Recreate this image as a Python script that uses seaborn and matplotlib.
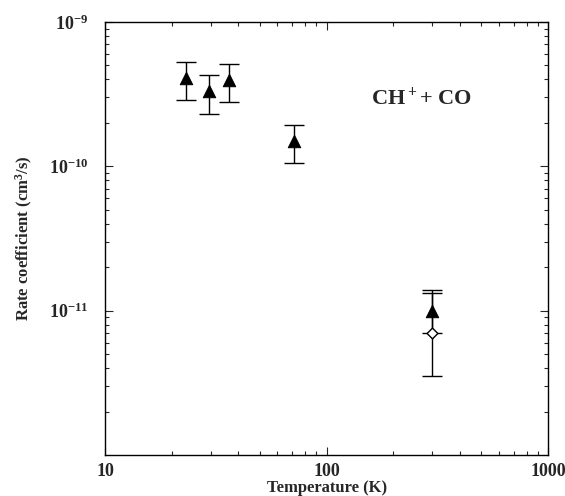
import numpy as np
import pandas as pd
import seaborn as sns
import matplotlib.pyplot as plt
from matplotlib.ticker import LogLocator, NullFormatter

# measured rate coefficients, CH+ + CO
temp_tri = [23.1, 29.6, 36.1, 71.3, 300.0]
rate_tri = [4.1e-10, 3.3e-10, 3.97e-10, 1.49e-10, 1.0e-11]
err_hi_tri = [5.26e-10, 4.27e-10, 5.15e-10, 1.94e-10, 1.4e-11]
err_lo_tri = [2.88e-10, 2.3e-10, 2.79e-10, 1.05e-10, 7.0e-12]

temp_open = [300.0]
rate_open = [7.0e-12]
err_hi_open = [1.33e-11]
err_lo_open = [3.5e-12]

sns.set_style("ticks")
plt.rcParams['font.family'] = ['Liberation Serif', 'DejaVu Serif']
plt.rcParams['mathtext.fontset'] = 'custom'
plt.rcParams['mathtext.rm'] = 'Liberation Serif:bold'
plt.rcParams['mathtext.bf'] = 'Liberation Serif:bold'
plt.rcParams['mathtext.it'] = 'Liberation Serif:bold'

fig = plt.figure(figsize=(5.65, 4.96), dpi=100)
ax = fig.add_axes([0.186, 0.0827, 0.784, 0.873])

df_tri = pd.DataFrame({'T': temp_tri, 'k': rate_tri})
df_open = pd.DataFrame({'T': temp_open, 'k': rate_open})

yerr_tri = [np.array(rate_tri) - np.array(err_lo_tri), np.array(err_hi_tri) - np.array(rate_tri)]
yerr_open = [np.array(rate_open) - np.array(err_lo_open), np.array(err_hi_open) - np.array(rate_open)]

ax.errorbar(temp_tri, rate_tri, yerr=yerr_tri, fmt='none', ecolor='black',
            elinewidth=1.0, capsize=7, capthick=1.0)
ax.errorbar(temp_open, rate_open, yerr=yerr_open, fmt='none', ecolor='black',
            elinewidth=1.0, capsize=7, capthick=1.0)
sns.scatterplot(data=df_tri, x='T', y='k', marker='^', s=80, color='black',
                edgecolor='black', ax=ax, zorder=3)
sns.scatterplot(data=df_open, x='T', y='k', marker='D', s=30, facecolor='white',
                edgecolor='black', linewidth=1.0, ax=ax, zorder=3)

ax.set_xscale('log')
ax.set_yscale('log')
ax.set_xlim(10, 1000)
ax.set_ylim(1e-12, 1e-9)

ax.set_xticks([10, 100, 1000])
ax.set_xticklabels(['10', '100', '1000'])
ax.set_yticks([1e-11, 1e-10, 1e-9])
ax.set_yticklabels([r'$10^{-11}$', r'$10^{-10}$', r'$10^{-9}$'])
ax.xaxis.set_minor_locator(LogLocator(base=10, subs=np.arange(2, 10)))
ax.yaxis.set_minor_locator(LogLocator(base=10, subs=np.arange(2, 10)))
ax.xaxis.set_minor_formatter(NullFormatter())
ax.yaxis.set_minor_formatter(NullFormatter())

ax.tick_params(which='both', direction='in', top=True, right=True, width=0.8)
ax.tick_params(which='major', length=6)
ax.tick_params(which='minor', length=3)
ax.tick_params(axis='x', which='major', labelsize=13, pad=6)
ax.tick_params(axis='y', which='major', labelsize=13, pad=12)
for lab in ax.get_xticklabels() + ax.get_yticklabels():
    lab.set_fontweight('bold')

for sp in ax.spines.values():
    sp.set_visible(True)
    sp.set_linewidth(1.0)
    sp.set_color('black')

ax.set_xlabel('Temperature (K)', fontsize=12, fontweight='bold', labelpad=0)
ax.set_ylabel(r'Rate coefficient (cm$^3$/s)', fontsize=12, fontweight='bold', labelpad=10)

ax.text(0.713, 0.824, r'CH$^+$+ CO', transform=ax.transAxes, fontsize=16,
        fontweight='bold', ha='center', va='center')

fig.savefig('out.png', dpi=100)
